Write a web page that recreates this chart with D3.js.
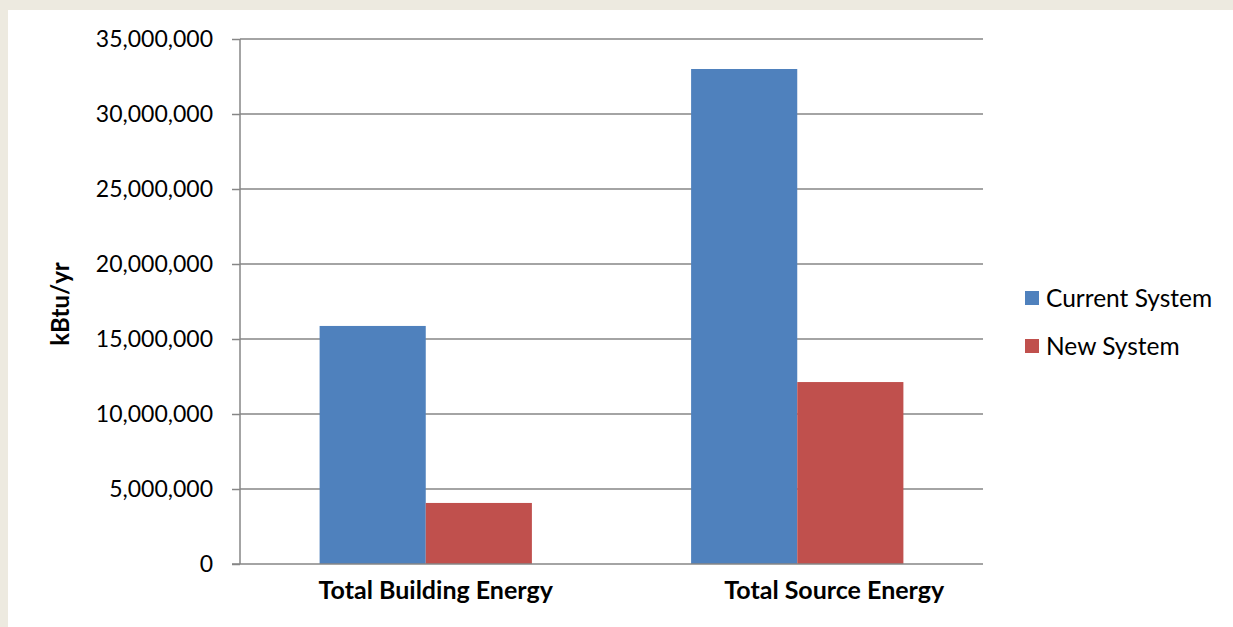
<!DOCTYPE html>
<html>
<head>
<meta charset="utf-8">
<script src="https://cdn.jsdelivr.net/npm/d3@7"></script>
<style>
  html, body { margin: 0; padding: 0; background: #EDEAE0; }
  svg { display: block; }
  text { font-family: Lato, "Noto Sans", sans-serif; fill: #000; }
</style>
</head>
<body>
<svg id="chart" width="1233" height="627"></svg>
<script>
// Annual energy use, current vs. new system
const categories = ["Total Building Energy", "Total Source Energy"];
const seriesNames = ["Current System", "New System"];
const currentSystem = [15870000, 33000000];
const newSystem = [4070000, 12130000];
const yTicks = [0, 5000000, 10000000, 15000000, 20000000, 25000000, 30000000, 35000000];
const colors = ["#4F81BD", "#C0504D"];

const svg = d3.select("#chart");

// white page area inside the beige frame
svg.append("rect").attr("x", 8).attr("y", 10).attr("width", 1225).attr("height", 617).attr("fill", "#fff");

const plot = { left: 240, right: 983, top: 39, bottom: 564 };

const y = d3.scaleLinear().domain([0, 35000000]).range([plot.bottom, plot.top]);
const x0 = d3.scaleBand().domain(categories).range([plot.left, plot.right]).paddingInner(0).paddingOuter(0);
// gap between groups is 150% of a bar width, split on both sides of each group
const x1 = d3.scaleBand().domain(seriesNames).range([0, x0.bandwidth()]).paddingInner(0).paddingOuter(0.75);

const fmt = d3.format(",");

// y axis with tick labels
const yAxis = d3.axisLeft(y).tickValues(yTicks).tickFormat(fmt).tickSize(8).tickPadding(19);
const gy = svg.append("g").attr("transform", `translate(${plot.left},0)`).call(yAxis);
gy.select(".domain").attr("stroke", "#868686").attr("stroke-width", 1.5).attr("d", `M0,${plot.top}V${plot.bottom}`);
gy.selectAll(".tick line").attr("stroke", "#868686").attr("stroke-width", 1.5);
gy.selectAll(".tick text").attr("font-size", 23).attr("font-family", "Lato, 'Noto Sans', sans-serif").attr("fill", "#000");

// horizontal gridlines
svg.append("g").selectAll("line").data(yTicks.filter(d => d > 0)).join("line")
  .attr("x1", plot.left).attr("x2", plot.right)
  .attr("y1", d => y(d)).attr("y2", d => y(d))
  .attr("stroke", "#868686").attr("stroke-width", 1.5);

// bars
const rows = categories.map((c, i) => ({ cat: c, vals: [currentSystem[i], newSystem[i]] }));
const groups = svg.append("g").selectAll("g").data(rows).join("g")
  .attr("transform", d => `translate(${x0(d.cat)},0)`);
groups.selectAll("rect").data(d => d.vals.map((v, j) => ({ name: seriesNames[j], v, j }))).join("rect")
  .attr("x", d => x1(d.name))
  .attr("width", x1.bandwidth())
  .attr("y", d => y(d.v))
  .attr("height", d => y(0) - y(d.v))
  .attr("fill", d => colors[d.j]);

// x axis baseline
svg.append("line").attr("x1", plot.left - 8).attr("x2", plot.right)
  .attr("y1", plot.bottom).attr("y2", plot.bottom)
  .attr("stroke", "#868686").attr("stroke-width", 1.5);

// category labels (nudged right of the band centre)
const labelNudge = [10, 37];
svg.append("g").selectAll("text").data(categories).join("text")
  .attr("x", (d, i) => x0(d) + x0.bandwidth() / 2 + labelNudge[i])
  .attr("y", 599)
  .attr("text-anchor", "middle")
  .attr("font-size", 25)
  .attr("font-weight", "bold")
  .text(d => d);

// y axis title
svg.append("text")
  .attr("transform", "translate(69,304) rotate(-90)")
  .attr("text-anchor", "middle")
  .attr("font-size", 24)
  .attr("font-weight", "bold")
  .text("kBtu/yr");

// legend
const legend = svg.append("g").selectAll("g").data(seriesNames).join("g")
  .attr("transform", (d, i) => `translate(1025,${298 + i * 48})`);
legend.append("rect").attr("x", 0).attr("y", -7).attr("width", 14).attr("height", 14)
  .attr("fill", (d, i) => colors[i]);
legend.append("text").attr("x", 21).attr("y", 0).attr("dy", "0.35em")
  .attr("font-size", 24.5).text(d => d);
</script>
</body>
</html>
